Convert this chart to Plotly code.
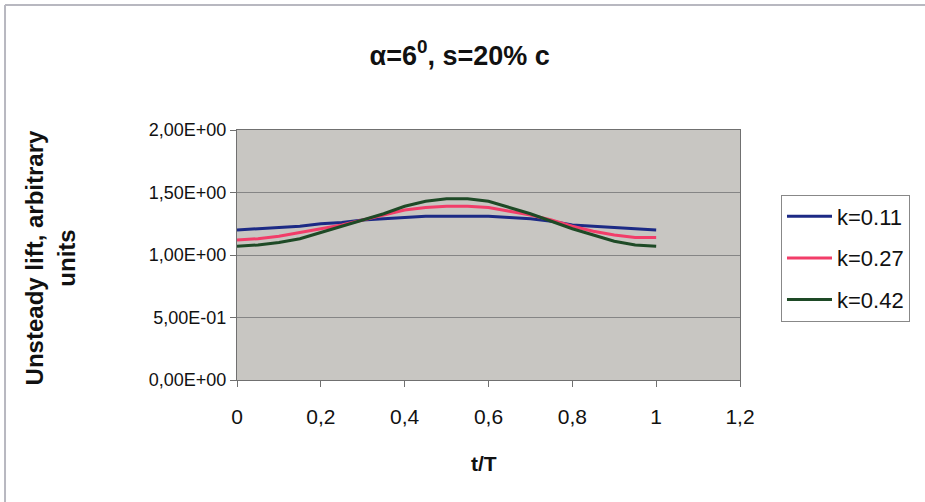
import plotly.graph_objects as go

t = [0.00, 0.05, 0.10, 0.15, 0.20, 0.25, 0.30, 0.35, 0.40, 0.45, 0.50,
     0.55, 0.60, 0.65, 0.70, 0.75, 0.80, 0.85, 0.90, 0.95, 1.00]
k011 = [1.20, 1.21, 1.22, 1.23, 1.25, 1.26, 1.28, 1.29, 1.30, 1.31, 1.31,
        1.31, 1.31, 1.30, 1.29, 1.27, 1.24, 1.23, 1.22, 1.21, 1.20]
k027 = [1.12, 1.13, 1.15, 1.18, 1.21, 1.24, 1.28, 1.32, 1.36, 1.38, 1.39,
        1.39, 1.38, 1.35, 1.32, 1.28, 1.23, 1.19, 1.16, 1.14, 1.14]
k042 = [1.07, 1.08, 1.10, 1.13, 1.18, 1.23, 1.28, 1.33, 1.39, 1.43, 1.45,
        1.45, 1.43, 1.38, 1.33, 1.27, 1.21, 1.16, 1.11, 1.08, 1.07]
series_names = ["k=0.11", "k=0.27", "k=0.42"]
series_colors = ["#1c2a85", "#f23d69", "#1e4a26"]

x_tickvals = [0, 0.2, 0.4, 0.6, 0.8, 1.0, 1.2]
x_ticktext = ["0", "0,2", "0,4", "0,6", "0,8", "1", "1,2"]
y_tickvals = [0, 0.5, 1.0, 1.5, 2.0]
y_ticktext = ["0,00E+00", "5,00E-01", "1,00E+00", "1,50E+00", "2,00E+00"]

fig = go.Figure()
for name, ys, col in zip(series_names, [k011, k027, k042], series_colors):
    fig.add_trace(go.Scatter(x=t, y=ys, mode="lines", name=name,
                             legendgroup=name,
                             line=dict(color=col, width=3)))

font_family = "Liberation Sans, Arial, sans-serif"

fig.update_layout(
    width=925, height=502,
    margin=dict(l=237, r=185, t=130, b=122),
    paper_bgcolor="white",
    plot_bgcolor="#c8c6c2",
    font=dict(family=font_family, size=18, color="#111111"),
    showlegend=True,
    legend=dict(x=1.0815, y=0.742, xanchor="left", yanchor="top",
                bordercolor="#888888", borderwidth=1, bgcolor="white",
                font=dict(size=22, color="#111111"),
                tracegroupgap=10, itemwidth=45),
    title=dict(text="<b>α=6<sup>0</sup>, s=20% c</b>", x=0.497, y=0.89,
               xanchor="center", yanchor="middle",
               font=dict(size=27, color="#111111")),
)

fig.update_xaxes(range=[0, 1.2], tickvals=x_tickvals, ticktext=x_ticktext,
                 showgrid=False, zeroline=False, showline=True,
                 linecolor="#707070", linewidth=1, mirror=True,
                 ticks="outside", ticklen=6, tickcolor="#707070",
                 ticklabelstandoff=12,
                 tickfont=dict(size=21))
fig.update_yaxes(range=[0, 2.0], tickvals=y_tickvals, ticktext=y_ticktext,
                 showgrid=True, gridcolor="#858585", gridwidth=1,
                 zeroline=False, showline=True,
                 linecolor="#707070", linewidth=1, mirror=True,
                 ticks="outside", ticklen=6, tickcolor="#707070",
                 tickfont=dict(size=18))

fig.add_annotation(text="<b>t/T</b>", xref="paper", yref="paper",
                   x=0.491, y=-0.332, showarrow=False,
                   font=dict(size=21), xanchor="center", yanchor="middle")
fig.add_annotation(text="<b>Unsteady lift, arbitrary<br>units</b>",
                   xref="paper", yref="paper", x=-0.372, y=0.49,
                   textangle=-90, showarrow=False,
                   font=dict(size=24), xanchor="center", yanchor="middle")

# outer chart border (top and left visible)
fig.add_shape(type="line", xref="paper", yref="paper",
              x0=-0.4612, x1=1.4, y0=1.5, y1=1.5,
              line=dict(color="#b8b8c0", width=2))
fig.add_shape(type="line", xref="paper", yref="paper",
              x0=-0.4612, x1=-0.4612, y0=1.5, y1=-0.52,
              line=dict(color="#b8b8c0", width=2))

fig.write_html("out.html",
               config={"displayModeBar": False},
               post_script="document.body.style.margin='0';")
